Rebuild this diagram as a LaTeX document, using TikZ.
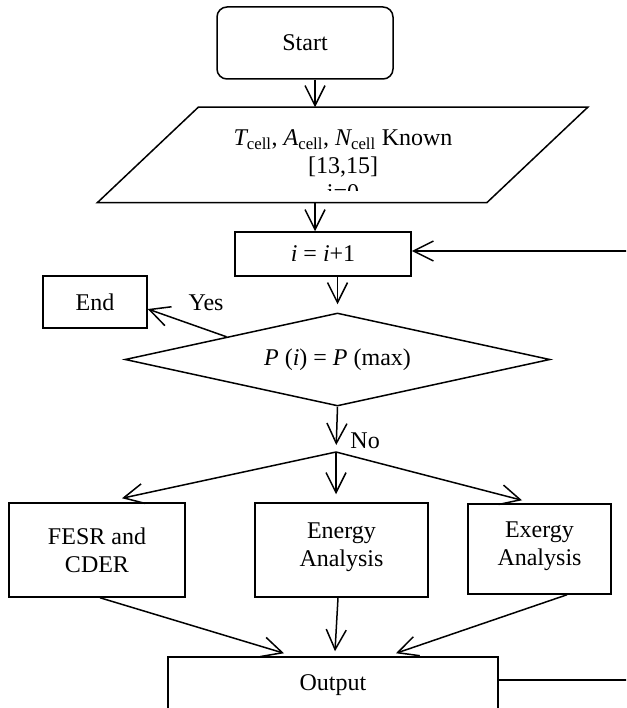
\documentclass[tikz,border=0pt]{standalone}
\usepackage{fontspec}
\setmainfont{Liberation Serif}
\usetikzlibrary{shapes.geometric,arrows.meta,calc}

\begin{document}
\begin{tikzpicture}[x=1pt,y=-1pt,line width=1.5pt,
  >={Straight Barb[length=20pt,width=20pt]},
  every node/.style={font=\fontsize{24pt}{27.6pt}\selectfont},
  box/.style={draw,rectangle,inner sep=0pt,align=center},
  ask/.style={draw,diamond,aspect=4.6,inner sep=0pt}]

  \useasboundingbox (0,0) rectangle (626,708);
  \clip (0,0) rectangle (626,708);

  \newcommand\BW{176pt};
  \newcommand\SL{101pt};

  \node[box,rounded corners=10pt,minimum width=\BW,minimum height=72pt]
  (start) at (305,43) {Start};
  \node[rectangle,inner sep=0pt,minimum width=489pt,minimum height=94pt]
  (input) at (342.5,155) {};
  \draw ([xshift=\SL]input.north west) -- (input.north east)
  -- ([xshift=-\SL]input.south east) -- (input.south west) -- cycle;
  \begin{scope}
    \clip (98,108) rectangle (587,191);
    \node[align=center,inner sep=0pt] (inputtext) at (343,165.4)
    {{\itshape T}\textsubscript{cell}, {\itshape A}\textsubscript{cell},
      {\itshape N}\textsubscript{cell} Known\\{[13,15]}\\i=0};
  \end{scope}

  \node[box,minimum width=\BW,minimum height=44pt]
  (inc) at (323,254) {{\itshape i} = {\itshape i}+1};
  \node[box,minimum width=104pt,minimum height=52pt] (end) at (95,302) {End};
  \node[ask,minimum width=425pt,minimum height=93pt]
  (dec) at (337.5,359.5) {{\itshape P} ({\itshape i}) = {\itshape P} (max)};
  \coordinate (split) at (336,452);

  \node[box,minimum width=\BW,minimum height=94pt]
  (fesr) at (97,550) {FESR and\\CDER};
  \node[box,minimum width=173pt,minimum height=94pt]
  (energy) at (341.5,550) {Energy\\Analysis\\[-17pt]};
  \node[box,minimum width=143pt,minimum height=90pt]
  (exergy) at (539.5,549) {Exergy\\Analysis\\[-17pt]};
  \node[box,minimum width=330pt,minimum height=56pt] (out) at (333,685) {Output};
  \coordinate (back) at (640,680);

  \coordinate (axis) at ([xshift=10pt]start.south);
  \draw[->] (start.south -| axis) -- (axis |- input.north); %% start -> input
  \draw[->] (axis |- input.south) -- (axis |- inc.north); %% input -> inc
  \draw[->] (dec.north |- inc.south) -- ([yshift=8pt]dec.north); %% inc -> dec

  \draw[->] ($(dec.north)!0.52!(dec.west)$) -- ([yshift=-7pt]end.east)
  node[pos=0.26,yshift=27pt] {Yes}; %% dec -> end
  \draw[->,shorten >=7pt] (dec.south) -- (split)
  node[pos=0.75,right=10pt] {No}; %% dec -> split

  \draw[->] (split) -- ([xshift=25pt,yshift=4pt]fesr.north);
  \draw[->,shorten >=8pt] (split) -- (split |- energy.north);
  \draw[->] (split) -- ([xshift=-17.5pt,yshift=3pt]exergy.north);

  \draw[->] ([xshift=3pt]fesr.south) -- ([xshift=-49pt,yshift=3pt]out.north);
  \draw[->] ([xshift=-3.5pt]energy.south) -- ([xshift=2pt,yshift=5pt]out.north);
  \draw[->] ([xshift=27.5pt]exergy.south) -- ([xshift=63pt,yshift=3pt]out.north);

  \draw[->] ([yshift=5pt]out.east) -- (back) |- ([yshift=3pt]inc.east); %% out -> inc

\end{tikzpicture}
\end{document}
